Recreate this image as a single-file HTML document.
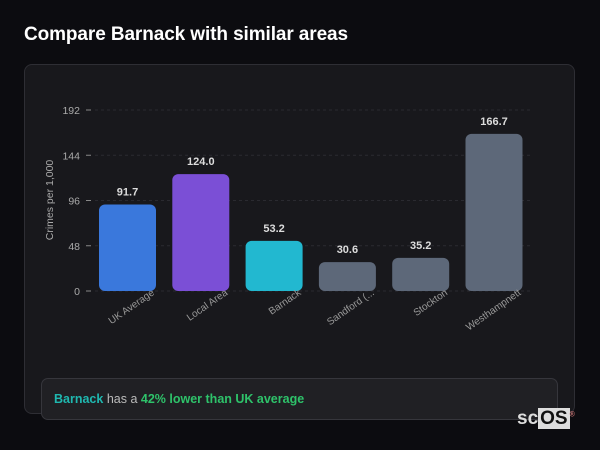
<!DOCTYPE html>
<html><head><meta charset="utf-8">
<style>
html,body{margin:0;padding:0;width:600px;height:450px;background:#0c0c10;overflow:hidden;font-family:"Liberation Sans","DejaVu Sans",sans-serif;}
#title{position:absolute;left:24px;top:24px;font-size:19px;font-weight:bold;color:#fff;letter-spacing:-0.1px;}
#card{position:absolute;left:24px;top:64px;width:551px;height:350px;background:#18181c;border:1px solid #2e2e34;border-radius:8px;box-sizing:border-box;}
#info{position:absolute;left:41px;top:378px;width:517px;height:42px;background:#202024;border:1px solid #36363c;border-radius:7px;box-sizing:border-box;font-size:12.5px;font-weight:bold;color:#aaa;padding:13px 0 0 12px;}
#logo{position:absolute;left:517px;top:408px;font-size:19px;font-weight:bold;color:#ddd;}
#logo span{background:#ddd;color:#111;padding:0 2px;}
svg{position:absolute;left:0;top:0;}
</style></head><body>
<div id="title">Compare Barnack with similar areas</div>
<div id="card"></div>
<svg id="chart" width="600" height="450"></svg>
<div id="info"><span style="color:#1fb8b0">Barnack</span> <span style="font-weight:normal;color:#bbb">has a</span> <span style="color:#2ec26a">42% lower than UK average</span></div>
<div id="logo">sc<span>OS</span><sup style="font-size:7px;color:#c77">®</sup></div>
<script>
const categories=["UK Average","Local Area","Barnack","Sandford (...","Stockton","Westhampnett"];
const values=[91.7,124.0,53.2,30.6,35.2,166.7];
const labels=["91.7","124.0","53.2","30.6","35.2","166.7"];
const colors=["#3a78dc","#7b4fd6","#22b8d0","#5d6879","#5d6879","#5d6879"];
const ticks=[0,48,96,144,192];
const svg=document.getElementById('chart');
const NS='http://www.w3.org/2000/svg';
const y0=291,y1=110,ymax=192;
function y(v){return y0-(v/ymax)*(y0-y1);}
function x(i){return 99+i*73.3;}
const bw=57;
function mk(t,a){const e=document.createElementNS(NS,t);for(const k in a)e.setAttribute(k,a[k]);svg.appendChild(e);return e;}
ticks.forEach(t=>{
  const g=mk('line',{x1:95,x2:532,y1:y(t),y2:y(t),stroke:'#2a2a30','stroke-dasharray':'3,3'});
  
  
  const m=mk('line',{x1:86,x2:91,y1:y(t),y2:y(t),stroke:'#888'});
  
  
  const l=mk('text',{x:80,y:y(t)+4,'text-anchor':'end','font-size':10.5,fill:'#aaa'});
  l.textContent=t;
  
  
});
const yt=mk('text',{transform:'translate(53,200) rotate(-90)','text-anchor':'middle','font-size':10.5,fill:'#aaa'});
yt.textContent='Crimes per 1,000';


values.forEach((v,i)=>{
  const top=y(v);
  const r=mk('rect',{x:x(i),y:top,width:bw,height:y0-top,rx:6,fill:colors[i]});
  
  
  const t=mk('text',{x:x(i)+bw/2,y:top-9,'text-anchor':'middle','font-size':11,'font-weight':'bold',fill:'#ddd'});
  t.textContent=labels[i];
  
  
  const c=mk('text',{transform:`translate(${x(i)+bw-1},${y0+3}) rotate(-35)`,'text-anchor':'end','font-size':10,fill:'#999'});
  c.textContent=categories[i];
  
  
});
</script>
</body></html>
